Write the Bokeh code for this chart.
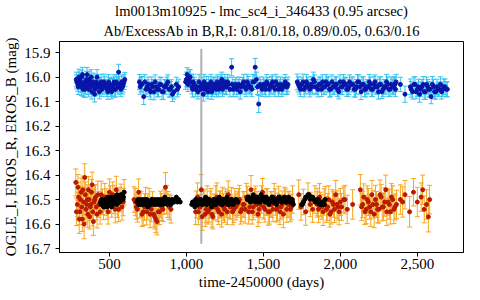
from bokeh.plotting import figure
from bokeh.models import (Range1d, Whisker, TeeHead, ColumnDataSource, Title,
                          FixedTicker, NumeralTickFormatter, PrintfTickFormatter)
from bokeh.embed import file_html
from bokeh.resources import INLINE

TITLE_1 = "lm0013m10925 - lmc_sc4_i_346433 (0.95 arcsec)"
TITLE_2 = "Ab/ExcessAb in B,R,I: 0.81/0.18, 0.89/0.05, 0.63/0.16"
X_LABEL = "time-2450000 (days)"
Y_LABEL = "OGLE_I, EROS_R, EROS_B (mag)"
X_TICKS = [500, 1000, 1500, 2000, 2500]
Y_TICKS = [15.9, 16.0, 16.1, 16.2, 16.3, 16.4, 16.5, 16.6, 16.7]

EVENT_T = [1097]
EVENT_TOP = [15.885]
EVENT_BOTTOM = [16.68]

# EROS_B
blue_t = [285, 295, 302, 310, 318, 325, 333, 340, 348, 355,
          362, 370, 378, 386, 395, 404, 412, 420, 430, 440,
          452, 465, 478, 490, 500, 510, 520, 530, 540, 550,
          560, 570, 580, 590, 600, 695, 705, 723, 730, 745,
          760, 775, 790, 805, 820, 835, 850, 865, 880, 895,
          910, 935, 950, 995, 1005, 1015, 1025, 1035, 1045, 1060,
          1075, 1090, 1100, 1110, 1120, 1130, 1140, 1150, 1160, 1170,
          1180, 1190, 1200, 1210, 1220, 1230, 1240, 1250, 1260, 1275,
          1294, 1305, 1320, 1335, 1350, 1365, 1380, 1395, 1410, 1425,
          1440, 1447, 1455, 1470, 1485, 1500, 1515, 1530, 1545, 1560,
          1575, 1590, 1605, 1620, 1635, 1650, 1660, 1720, 1735, 1750,
          1765, 1780, 1795, 1810, 1825, 1840, 1855, 1870, 1885, 1900,
          1915, 1930, 1945, 1960, 1975, 1990, 2005, 2020, 2035, 2050,
          2060, 2075, 2090, 2105, 2120, 2135, 2150, 2165, 2180, 2195,
          2210, 2225, 2240, 2255, 2270, 2285, 2300, 2315, 2330, 2345,
          2355, 2362, 2390, 2420, 2455, 2470, 2485, 2500, 2515, 2530,
          2545, 2560, 2575, 2590, 2605, 2620, 2635, 2650, 2665, 2680,
          2695,
          288, 298, 306, 314, 321, 329, 337, 344, 352, 359,
          366, 374, 382, 391, 399, 408, 416, 425, 435, 446,
          458, 471, 484, 495, 505, 515, 525, 535, 545, 555,
          565, 575, 585, 595, 700, 712, 738, 752, 768, 782,
          797, 812, 828, 842, 857, 872, 888, 903, 920, 942,
          1000, 1010, 1020, 1030, 1040, 1052, 1068, 1082, 1095, 1105,
          1115, 1125, 1135, 1145, 1155, 1165, 1175, 1185, 1195, 1205,
          1215, 1225, 1235, 1245, 1255, 1268, 1283, 1298, 1312, 1328,
          1342, 1357, 1372, 1388, 1402, 1418, 1432, 1462, 1478, 1492,
          1508, 1522, 1538, 1552, 1568, 1582, 1598, 1612, 1628, 1642,
          1655, 1727, 1742, 1758, 1772, 1788, 1802, 1818, 1832, 1848,
          1862, 1878, 1892, 1908, 1922, 1938, 1952, 1968, 1982, 1998,
          2012, 2028, 2042, 2056, 2082, 2098, 2112, 2128, 2142, 2158,
          2172, 2188, 2202, 2218, 2232, 2248, 2262, 2278, 2292, 2308,
          2322, 2338, 2350, 2358, 2460, 2478, 2492, 2508, 2522, 2538,
          2552, 2568, 2582, 2598, 2612, 2628, 2642, 2658, 2672, 2688]
blue_mag = [16.01, 16.03, 16.00, 16.02, 16.04, 15.99, 16.03, 16.05, 16.02, 15.99,
            16.04, 16.01, 16.03, 16.06, 16.02, 16.07, 16.03, 16.00, 16.04, 16.03,
            16.05, 16.02, 16.04, 16.06, 16.03, 16.05, 16.04, 16.02, 16.05, 16.03,
            15.98, 16.04, 16.02, 16.03, 16.01, 16.02, 16.03, 16.08, 16.02, 16.04,
            16.05, 16.03, 16.06, 16.04, 16.05, 16.03, 16.06, 16.04, 16.02, 16.05,
            16.07, 16.03, 16.04, 16.02, 15.99, 16.01, 16.00, 16.04, 16.02, 16.05,
            16.06, 16.04, 16.03, 16.07, 16.05, 16.03, 16.06, 16.04, 16.02, 16.05,
            16.03, 16.04, 16.02, 16.05, 16.03, 16.01, 16.04, 16.02, 16.04, 16.03,
            15.96, 16.05, 16.03, 16.04, 16.06, 16.03, 16.04, 16.02, 16.04, 16.05,
            16.02, 15.96, 16.01, 16.11, 16.04, 16.03, 16.05, 16.03, 16.04, 16.02,
            16.05, 16.03, 16.04, 16.05, 16.03, 16.04, 16.03, 16.02, 16.04, 16.03,
            16.05, 16.02, 16.04, 16.03, 16.01, 16.04, 16.05, 16.03, 16.02, 16.04,
            16.03, 16.05, 16.02, 16.04, 16.03, 16.06, 16.04, 16.02, 16.03, 16.05,
            16.02, 16.03, 16.05, 16.04, 16.02, 16.06, 16.03, 16.05, 16.04, 16.03,
            16.05, 16.02, 16.04, 16.03, 16.06, 16.04, 16.02, 16.05, 16.03, 16.04,
            16.03, 16.02, 16.03, 16.07, 16.04, 16.06, 16.03, 16.05, 16.07, 16.04,
            16.06, 16.03, 16.05, 16.08, 16.04, 16.06, 16.05, 16.03, 16.05, 16.04,
            16.05,
            16.02, 16.04, 16.01, 16.03, 16.00, 16.05, 16.02, 16.04, 16.01, 16.03,
            16.05, 16.02, 16.00, 16.04, 16.03, 16.05, 16.02, 16.04, 16.06, 16.02,
            16.04, 16.03, 16.05, 16.02, 16.04, 16.06, 16.03, 16.05, 16.02, 16.04,
            16.03, 16.05, 16.04, 16.02, 16.04, 16.03, 16.05, 16.03, 16.06, 16.04,
            16.02, 16.05, 16.03, 16.06, 16.04, 16.03, 16.05, 16.04, 16.06, 16.05,
            16.01, 16.03, 16.00, 16.02, 16.05, 16.03, 16.04, 16.02, 16.05, 16.04,
            16.02, 16.04, 16.05, 16.03, 16.04, 16.06, 16.03, 16.04, 16.05, 16.03,
            16.04, 16.02, 16.05, 16.03, 16.04, 16.02, 16.05, 16.03, 16.04, 16.05,
            16.03, 16.04, 16.02, 16.05, 16.03, 16.04, 16.02, 16.04, 16.03, 16.05,
            16.04, 16.02, 16.05, 16.03, 16.04, 16.02, 16.05, 16.03, 16.04, 16.02,
            16.04, 16.03, 16.05, 16.02, 16.04, 16.03, 16.05, 16.04, 16.02, 16.04,
            16.03, 16.05, 16.04, 16.02, 16.03, 16.05, 16.04, 16.03, 16.05, 16.02,
            16.04, 16.03, 16.05, 16.04, 16.03, 16.05, 16.02, 16.04, 16.03, 16.05,
            16.04, 16.02, 16.05, 16.03, 16.04, 16.06, 16.03, 16.05, 16.04, 16.03,
            16.05, 16.04, 16.03, 16.05, 16.05, 16.03, 16.06, 16.04, 16.05, 16.03,
            16.06, 16.04, 16.05, 16.03, 16.06, 16.04, 16.05, 16.06, 16.04, 16.05]
blue_err = [0.030, 0.028, 0.032, 0.030, 0.035, 0.030, 0.027, 0.033, 0.030, 0.029,
            0.031, 0.034, 0.028, 0.030, 0.036, 0.032, 0.029, 0.030, 0.033, 0.028,
            0.030, 0.032, 0.029, 0.031, 0.028, 0.030, 0.034, 0.029, 0.031, 0.030,
            0.032, 0.030, 0.028, 0.031, 0.029, 0.030, 0.028, 0.032, 0.030, 0.029,
            0.031, 0.030, 0.033, 0.029, 0.030, 0.028, 0.031, 0.030, 0.029, 0.032,
            0.030, 0.029, 0.031, 0.030, 0.028, 0.031, 0.030, 0.029, 0.032, 0.030,
            0.029, 0.031, 0.030, 0.028, 0.030, 0.032, 0.029, 0.030, 0.031, 0.029,
            0.030, 0.031, 0.029, 0.030, 0.032, 0.030, 0.028, 0.031, 0.030, 0.029,
            0.035, 0.030, 0.029, 0.031, 0.030, 0.028, 0.030, 0.031, 0.029, 0.030,
            0.031, 0.036, 0.030, 0.035, 0.029, 0.030, 0.031, 0.028, 0.030, 0.029,
            0.030, 0.031, 0.029, 0.030, 0.028, 0.031, 0.030, 0.032, 0.030, 0.029,
            0.031, 0.030, 0.029, 0.032, 0.030, 0.028, 0.031, 0.030, 0.029, 0.030,
            0.030, 0.032, 0.029, 0.031, 0.030, 0.029, 0.031, 0.030, 0.028, 0.030,
            0.029, 0.030, 0.031, 0.030, 0.029, 0.032, 0.030, 0.031, 0.029, 0.030,
            0.030, 0.029, 0.031, 0.030, 0.028, 0.030, 0.031, 0.029, 0.030, 0.032,
            0.030, 0.031, 0.029, 0.033, 0.032, 0.030, 0.031, 0.029, 0.033, 0.030,
            0.031, 0.030, 0.032, 0.029, 0.031, 0.030, 0.028, 0.031, 0.030, 0.032,
            0.030,
            0.029, 0.031, 0.030, 0.032, 0.028, 0.030, 0.031, 0.029, 0.033, 0.030,
            0.031, 0.029, 0.030, 0.032, 0.030, 0.028, 0.031, 0.030, 0.029, 0.031,
            0.030, 0.032, 0.029, 0.030, 0.031, 0.029, 0.030, 0.032, 0.030, 0.029,
            0.031, 0.030, 0.029, 0.031, 0.030, 0.032, 0.029, 0.030, 0.031, 0.030,
            0.029, 0.031, 0.030, 0.032, 0.029, 0.030, 0.031, 0.029, 0.030, 0.031,
            0.030, 0.029, 0.031, 0.030, 0.032, 0.029, 0.030, 0.031, 0.029, 0.030,
            0.031, 0.030, 0.029, 0.032, 0.030, 0.031, 0.029, 0.030, 0.031, 0.030,
            0.029, 0.031, 0.030, 0.029, 0.032, 0.030, 0.031, 0.029, 0.030, 0.031,
            0.030, 0.029, 0.031, 0.030, 0.032, 0.029, 0.030, 0.031, 0.030, 0.029,
            0.031, 0.030, 0.029, 0.032, 0.030, 0.031, 0.029, 0.030, 0.031, 0.030,
            0.029, 0.031, 0.030, 0.032, 0.029, 0.030, 0.031, 0.030, 0.029, 0.031,
            0.030, 0.029, 0.031, 0.030, 0.032, 0.029, 0.030, 0.031, 0.030, 0.029,
            0.031, 0.030, 0.029, 0.031, 0.030, 0.032, 0.030, 0.029, 0.031, 0.030,
            0.029, 0.031, 0.030, 0.032, 0.029, 0.030, 0.031, 0.030, 0.029, 0.031,
            0.030, 0.029, 0.031, 0.030, 0.032, 0.030, 0.029, 0.031, 0.030, 0.032,
            0.031, 0.030, 0.029, 0.032, 0.030, 0.031, 0.029, 0.030, 0.032, 0.031]

# EROS_R
red_t = [282, 292, 300, 308, 316, 324, 332, 340, 348, 356,
         364, 372, 380, 388, 396, 405, 415, 425, 440, 455,
         470, 485, 500, 515, 530, 545, 560, 575, 590, 660,
         675, 690, 705, 720, 735, 750, 765, 780, 795, 809,
         825, 840, 855, 864, 880, 900, 1060, 1072, 1085, 1097,
         1110, 1122, 1135, 1148, 1160, 1172, 1185, 1198, 1210, 1222,
         1235, 1248, 1260, 1272, 1285, 1300, 1315, 1330, 1345, 1360,
         1375, 1390, 1405, 1420, 1435, 1450, 1465, 1480, 1495, 1510,
         1525, 1540, 1555, 1570, 1585, 1600, 1615, 1630, 1645, 1660,
         1675, 1690, 1730, 1745, 1760, 1775, 1790, 1805, 1820, 1835,
         1850, 1865, 1880, 1895, 1910, 1925, 1940, 1955, 1970, 1985,
         2000, 2030, 2080, 2130, 2145, 2160, 2175, 2190, 2205, 2220,
         2235, 2250, 2265, 2280, 2295, 2310, 2325, 2340, 2355, 2365,
         2390, 2420, 2450, 2475, 2500, 2525, 2545, 2560, 2572, 2580,
         286, 296, 304, 312, 320, 328, 336, 344, 352, 360,
         368, 376, 384, 392, 400, 410, 420, 432, 447, 462,
         478, 492, 508, 522, 538, 552, 568, 582, 596, 668,
         682, 698, 712, 728, 742, 758, 772, 788, 802, 817,
         832, 848, 872, 890, 1065, 1078, 1090, 1103, 1116, 1128,
         1141, 1154, 1166, 1179, 1191, 1204, 1216, 1229, 1241, 1254,
         1266, 1279, 1292, 1308, 1322, 1338, 1352, 1368, 1382, 1398,
         1412, 1428, 1442, 1458, 1472, 1488, 1502, 1518, 1532, 1548,
         1562, 1578, 1592, 1608, 1622, 1638, 1652, 1668, 1682, 1850,
         1858, 1872, 1888, 1902, 1918, 1932, 1948, 1962, 1978, 1992,
         2008, 2022, 2045, 2138, 2152, 2168, 2182, 2198, 2212, 2228,
         2242, 2258, 2272, 2288, 2302, 2318, 2332, 2348, 2405, 2535]
red_mag = [16.43, 16.52, 16.49, 16.55, 16.47, 16.58, 16.51, 16.41, 16.54, 16.50,
           16.46, 16.57, 16.52, 16.44, 16.59, 16.50, 16.53, 16.48, 16.55, 16.51,
           16.49, 16.53, 16.47, 16.52, 16.50, 16.46, 16.54, 16.49, 16.51, 16.50,
           16.53, 16.47, 16.52, 16.55, 16.50, 16.53, 16.56, 16.52, 16.57, 16.59,
           16.55, 16.53, 16.51, 16.45, 16.52, 16.54, 16.55, 16.49, 16.53, 16.46,
           16.52, 16.56, 16.50, 16.54, 16.51, 16.57, 16.53, 16.49, 16.55, 16.52,
           16.50, 16.54, 16.52, 16.48, 16.53, 16.55, 16.51, 16.52, 16.50, 16.54,
           16.52, 16.49, 16.55, 16.46, 16.53, 16.50, 16.56, 16.52, 16.47, 16.54,
           16.51, 16.55, 16.52, 16.49, 16.54, 16.50, 16.53, 16.56, 16.51, 16.52,
           16.54, 16.50, 16.48, 16.53, 16.51, 16.55, 16.49, 16.52, 16.54, 16.50,
           16.52, 16.49, 16.53, 16.51, 16.54, 16.50, 16.55, 16.52, 16.48, 16.53,
           16.51, 16.50, 16.52, 16.46, 16.52, 16.55, 16.50, 16.53, 16.48, 16.56,
           16.52, 16.54, 16.49, 16.53, 16.46, 16.51, 16.55, 16.50, 16.53, 16.52,
           16.50, 16.48, 16.55, 16.47, 16.51, 16.49, 16.54, 16.52, 16.57, 16.50,
           16.55, 16.45, 16.58, 16.50, 16.53, 16.46, 16.60, 16.48, 16.52, 16.56,
           16.50, 16.53, 16.47, 16.55, 16.51, 16.49, 16.56, 16.52, 16.48, 16.53,
           16.51, 16.55, 16.50, 16.48, 16.54, 16.52, 16.50, 16.53, 16.47, 16.51,
           16.54, 16.52, 16.56, 16.53, 16.55, 16.51, 16.54, 16.56, 16.58, 16.55,
           16.52, 16.54, 16.50, 16.53, 16.52, 16.55, 16.53, 16.57, 16.51, 16.54,
           16.55, 16.52, 16.56, 16.53, 16.50, 16.54, 16.52, 16.56, 16.53, 16.51,
           16.55, 16.52, 16.50, 16.54, 16.53, 16.51, 16.55, 16.52, 16.54, 16.50,
           16.53, 16.55, 16.51, 16.52, 16.54, 16.50, 16.53, 16.51, 16.55, 16.52,
           16.54, 16.51, 16.53, 16.55, 16.52, 16.50, 16.54, 16.52, 16.53, 16.51,
           16.54, 16.52, 16.55, 16.50, 16.53, 16.56, 16.51, 16.54, 16.52, 16.55,
           16.53, 16.50, 16.54, 16.53, 16.49, 16.54, 16.51, 16.55, 16.52, 16.50,
           16.54, 16.48, 16.53, 16.51, 16.55, 16.52, 16.49, 16.54, 16.51, 16.46]
red_err = [0.055, 0.050, 0.060, 0.052, 0.058, 0.050, 0.054, 0.056, 0.052, 0.060,
           0.054, 0.050, 0.058, 0.052, 0.056, 0.060, 0.053, 0.055, 0.050, 0.052,
           0.056, 0.050, 0.054, 0.052, 0.058, 0.055, 0.050, 0.053, 0.056, 0.052,
           0.050, 0.054, 0.052, 0.056, 0.050, 0.053, 0.055, 0.052, 0.050, 0.054,
           0.052, 0.055, 0.050, 0.060, 0.053, 0.056, 0.052, 0.058, 0.050, 0.062,
           0.054, 0.050, 0.056, 0.052, 0.055, 0.050, 0.053, 0.058, 0.052, 0.055,
           0.050, 0.054, 0.052, 0.056, 0.050, 0.053, 0.055, 0.052, 0.058, 0.050,
           0.053, 0.056, 0.050, 0.058, 0.052, 0.055, 0.050, 0.054, 0.056, 0.052,
           0.055, 0.050, 0.053, 0.056, 0.052, 0.054, 0.050, 0.055, 0.053, 0.052,
           0.050, 0.056, 0.060, 0.054, 0.052, 0.055, 0.058, 0.050, 0.053, 0.056,
           0.052, 0.055, 0.050, 0.054, 0.053, 0.056, 0.050, 0.052, 0.058, 0.054,
           0.055, 0.058, 0.060, 0.062, 0.054, 0.052, 0.056, 0.050, 0.058, 0.055,
           0.053, 0.056, 0.052, 0.055, 0.060, 0.054, 0.050, 0.056, 0.053, 0.058,
           0.060, 0.058, 0.062, 0.056, 0.060, 0.058, 0.055, 0.060, 0.062, 0.058,
           0.056, 0.052, 0.058, 0.054, 0.050, 0.056, 0.060, 0.052, 0.055, 0.053,
           0.050, 0.055, 0.052, 0.058, 0.054, 0.050, 0.056, 0.053, 0.055, 0.052,
           0.054, 0.050, 0.056, 0.052, 0.055, 0.053, 0.050, 0.054, 0.052, 0.056,
           0.052, 0.055, 0.050, 0.054, 0.053, 0.056, 0.050, 0.052, 0.055, 0.053,
           0.054, 0.050, 0.058, 0.052, 0.055, 0.053, 0.050, 0.056, 0.052, 0.054,
           0.050, 0.055, 0.053, 0.052, 0.056, 0.050, 0.054, 0.052, 0.055, 0.053,
           0.052, 0.056, 0.050, 0.054, 0.053, 0.055, 0.050, 0.052, 0.056, 0.054,
           0.053, 0.050, 0.055, 0.052, 0.054, 0.056, 0.050, 0.053, 0.055, 0.052,
           0.050, 0.054, 0.056, 0.052, 0.055, 0.050, 0.053, 0.054, 0.052, 0.056,
           0.054, 0.050, 0.056, 0.053, 0.055, 0.052, 0.050, 0.054, 0.056, 0.053,
           0.055, 0.052, 0.058, 0.056, 0.054, 0.058, 0.055, 0.060, 0.056, 0.058,
           0.055, 0.060, 0.057, 0.058, 0.056, 0.060, 0.055, 0.058, 0.062, 0.060]

# OGLE_I
black_t = [442, 448, 454, 460, 466, 472, 478, 484, 490, 496,
           502, 508, 514, 520, 526, 532, 538, 544, 550, 556,
           562, 568, 574, 580, 586, 592, 680, 690, 700, 710,
           720, 730, 740, 750, 760, 770, 780, 790, 800, 810,
           820, 830, 840, 850, 860, 870, 880, 890, 900, 910,
           920, 935, 950, 960, 1035, 1045, 1055, 1065, 1075, 1085,
           1095, 1105, 1115, 1125, 1135, 1145, 1155, 1165, 1175, 1185,
           1195, 1205, 1215, 1225, 1235, 1245, 1255, 1265, 1275, 1285,
           1295, 1305, 1315, 1325, 1335, 1395, 1405, 1415, 1425, 1435,
           1445, 1455, 1465, 1475, 1485, 1495, 1505, 1515, 1525, 1535,
           1545, 1555, 1565, 1575, 1585, 1595, 1605, 1615, 1625, 1635,
           1645, 1655, 1665, 1675, 1685, 1695, 1748, 1760, 1775, 1790,
           1805, 1820, 1835, 1850, 1865, 1880, 1892, 1902,
           445, 451, 457, 463, 469, 475, 481, 487, 493, 499,
           505, 511, 517, 523, 529, 535, 541, 547, 553, 559,
           565, 571, 577, 583, 589, 595, 685, 695, 705, 715,
           725, 735, 745, 755, 765, 775, 785, 795, 805, 815,
           825, 835, 845, 855, 865, 875, 885, 895, 905, 915,
           928, 942, 1040, 1050, 1060, 1070, 1080, 1090, 1100, 1110,
           1120, 1130, 1140, 1150, 1160, 1170, 1180, 1190, 1200, 1210,
           1220, 1230, 1240, 1250, 1260, 1270, 1280, 1290, 1300, 1310,
           1320, 1330, 1400, 1410, 1420, 1430, 1440, 1450, 1460, 1470,
           1480, 1490, 1500, 1510, 1520, 1530, 1540, 1550, 1560, 1570,
           1580, 1590, 1600, 1610, 1620, 1630, 1640, 1650, 1660, 1670,
           1680, 1690, 1754, 1768, 1782, 1798, 1812, 1828, 1842, 1858,
           1872, 1886, 1897]
black_mag = [16.51, 16.50, 16.52, 16.51, 16.53, 16.50, 16.52, 16.51, 16.49, 16.52,
             16.50, 16.51, 16.53, 16.50, 16.52, 16.49, 16.51, 16.50, 16.48, 16.50,
             16.49, 16.51, 16.48, 16.50, 16.48, 16.49, 16.51, 16.52, 16.50, 16.51,
             16.52, 16.50, 16.51, 16.53, 16.51, 16.52, 16.50, 16.52, 16.51, 16.50,
             16.52, 16.51, 16.50, 16.52, 16.49, 16.51, 16.50, 16.51, 16.52, 16.50,
             16.51, 16.49, 16.50, 16.51, 16.52, 16.51, 16.53, 16.50, 16.52, 16.51,
             16.50, 16.52, 16.51, 16.49, 16.52, 16.50, 16.51, 16.53, 16.50, 16.51,
             16.52, 16.50, 16.49, 16.51, 16.52, 16.50, 16.51, 16.49, 16.52, 16.51,
             16.50, 16.52, 16.51, 16.50, 16.51, 16.50, 16.49, 16.51, 16.50, 16.48,
             16.50, 16.49, 16.51, 16.50, 16.48, 16.50, 16.49, 16.51, 16.50, 16.52,
             16.50, 16.49, 16.51, 16.50, 16.52, 16.50, 16.49, 16.51, 16.50, 16.49,
             16.51, 16.50, 16.49, 16.51, 16.50, 16.52, 16.52, 16.51, 16.49, 16.48,
             16.50, 16.49, 16.51, 16.50, 16.52, 16.51, 16.52, 16.50,
             16.52, 16.50, 16.51, 16.53, 16.51, 16.52, 16.50, 16.53, 16.51, 16.50,
             16.52, 16.49, 16.51, 16.52, 16.50, 16.51, 16.49, 16.52, 16.50, 16.49,
             16.51, 16.49, 16.50, 16.48, 16.50, 16.47, 16.50, 16.51, 16.52, 16.50,
             16.51, 16.52, 16.50, 16.51, 16.52, 16.50, 16.51, 16.50, 16.52, 16.51,
             16.50, 16.52, 16.51, 16.50, 16.51, 16.52, 16.50, 16.52, 16.50, 16.51,
             16.50, 16.51, 16.51, 16.52, 16.50, 16.52, 16.51, 16.50, 16.52, 16.51,
             16.50, 16.52, 16.51, 16.50, 16.52, 16.51, 16.50, 16.52, 16.50, 16.51,
             16.51, 16.52, 16.50, 16.51, 16.50, 16.52, 16.51, 16.50, 16.52, 16.51,
             16.50, 16.51, 16.49, 16.50, 16.51, 16.49, 16.50, 16.51, 16.49, 16.50,
             16.51, 16.49, 16.50, 16.51, 16.49, 16.50, 16.51, 16.50, 16.49, 16.51,
             16.50, 16.51, 16.49, 16.50, 16.51, 16.50, 16.49, 16.51, 16.50, 16.51,
             16.50, 16.51, 16.52, 16.50, 16.49, 16.48, 16.49, 16.50, 16.51, 16.50,
             16.52, 16.51, 16.52]

FONT = "Liberation Serif"

p = figure(frame_width=404, frame_height=211, output_backend="svg", toolbar_location=None,
           x_range=Range1d(176, 2800), y_range=Range1d(16.716, 15.855),
           min_border_left=58, min_border_right=2, min_border_top=0, min_border_bottom=0)
p.background_fill_color = "white"
p.border_fill_color = "white"
p.outline_line_color = "black"
p.outline_line_width = 1
p.xgrid.visible = False
p.ygrid.visible = False

p.title.text = TITLE_1
p.title.align = "center"
p.title.text_font = FONT
p.title.text_font_size = "14.5px"
p.title.text_font_style = "normal"
p.title.text_color = "black"
p.title.standoff = 0
p.add_layout(Title(text=TITLE_2, align="center", text_font=FONT, text_font_size="14.5px",
                   text_font_style="normal", text_color="black", standoff=5), "above")

for ax in (p.xaxis[0], p.yaxis[0]):
    ax.axis_line_color = "black"
    ax.major_tick_line_color = "black"
    ax.minor_tick_line_color = None
    ax.major_tick_in = 0
    ax.major_tick_out = 4
    ax.major_label_text_font = FONT
    ax.major_label_text_font_size = "15px"
    ax.axis_label_text_font = FONT
    ax.axis_label_text_font_size = "15px"
    ax.axis_label_text_font_style = "normal"
    ax.major_label_text_color = "black"
    ax.axis_label_text_color = "black"

p.xaxis.axis_label = X_LABEL
p.xaxis.ticker = FixedTicker(ticks=X_TICKS)
p.xaxis.formatter = NumeralTickFormatter(format="0,0")
p.xaxis.major_label_standoff = 2
p.xaxis.axis_label_standoff = 2
p.yaxis.axis_label = Y_LABEL
p.yaxis.ticker = FixedTicker(ticks=Y_TICKS)
p.yaxis.formatter = PrintfTickFormatter(format="%.1f")
p.yaxis.major_label_standoff = 5
p.yaxis.axis_label_standoff = 2

p.segment(x0=EVENT_T, y0=EVENT_TOP, x1=EVENT_T, y1=EVENT_BOTTOM,
          line_color="#b0b0b0", line_width=2)


def add_series(t, mag, err, bar_color, pt_color):
    src = ColumnDataSource(dict(t=t, mag=mag,
                                lo=[m - e for m, e in zip(mag, err)],
                                hi=[m + e for m, e in zip(mag, err)]))
    w = Whisker(source=src, base="t", upper="hi", lower="lo", dimension="height",
                line_color=bar_color, line_width=1, level="underlay",
                upper_head=TeeHead(size=5, line_color=bar_color, line_width=1),
                lower_head=TeeHead(size=5, line_color=bar_color, line_width=1))
    p.add_layout(w)
    p.scatter("t", "mag", source=src, size=4, color=pt_color)


add_series(blue_t, blue_mag, blue_err, "#35c2f0", "#0a14a8")
add_series(red_t, red_mag, red_err, "#f7a51e", "#b81a00")
p.scatter(black_t, black_mag, size=4, color="black")

open("out.html", "w").write(file_html(p, INLINE))
